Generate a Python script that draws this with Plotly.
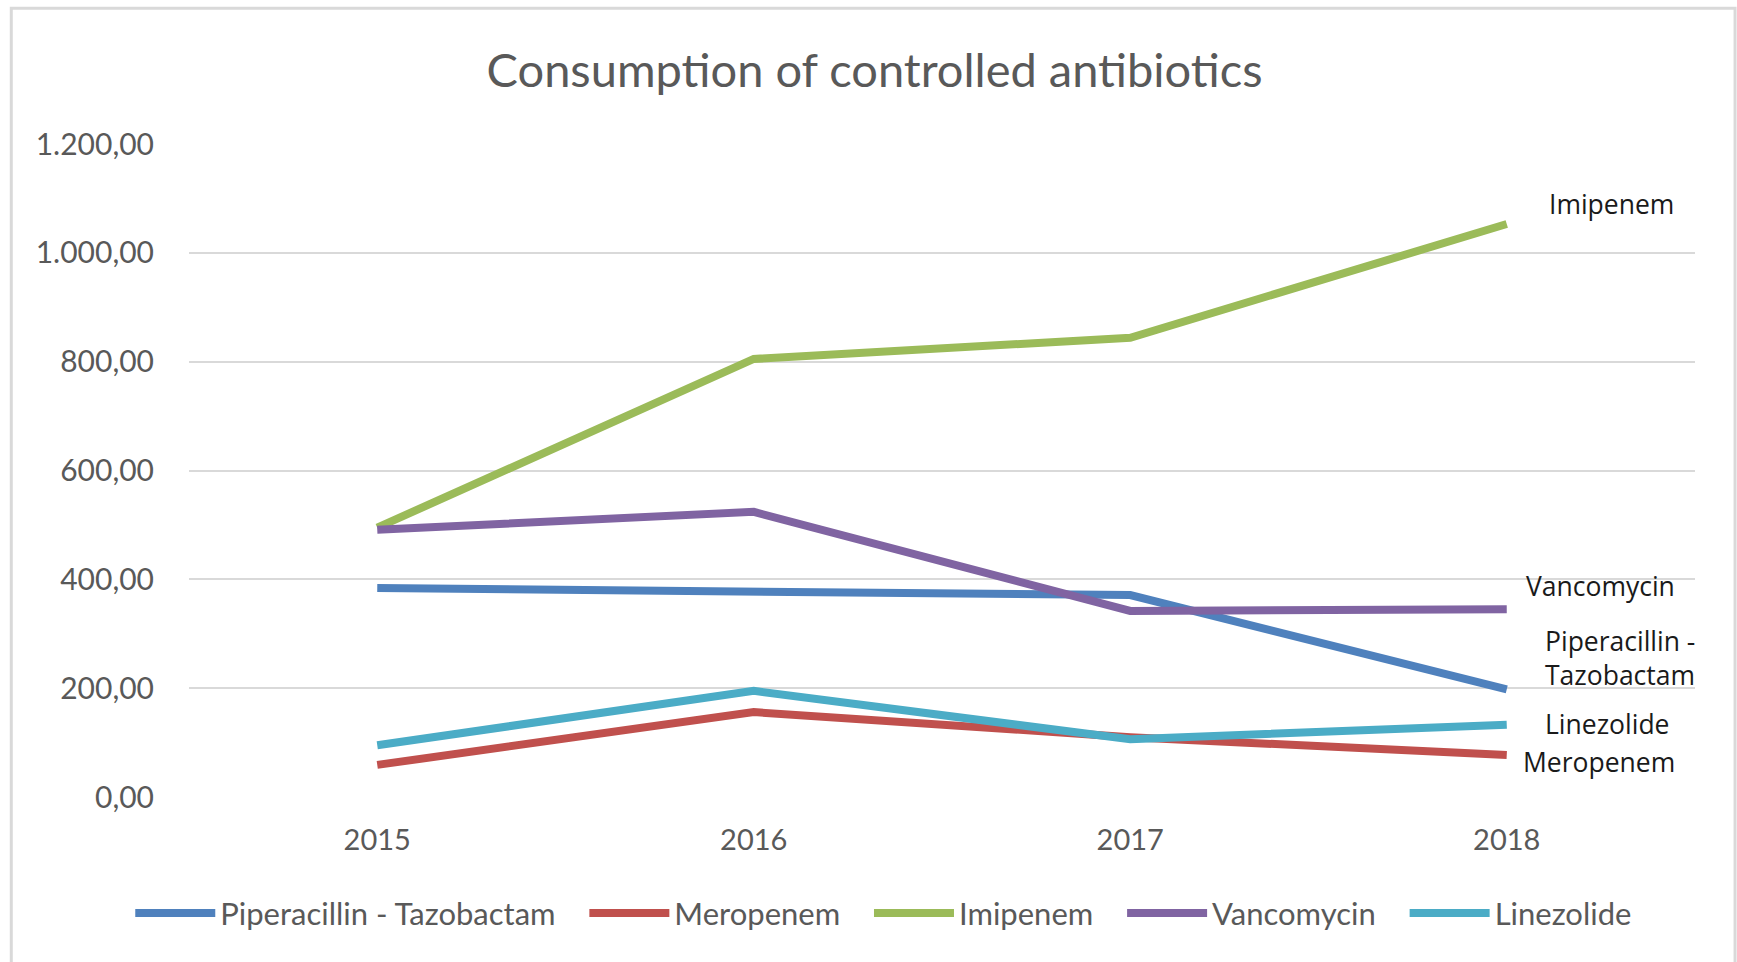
import plotly.graph_objects as go

years = ["2015", "2016", "2017", "2018"]
series_names = ["Piperacillin - Tazobactam", "Meropenem", "Imipenem", "Vancomycin", "Linezolide"]
piperacillin = [384, 377, 371, 198]
meropenem = [59, 156, 110, 77]
imipenem = [495, 805, 844, 1053]
vancomycin = [491, 524, 342, 345]
linezolide = [95, 195, 106, 133]
colors = ["#4F81BD", "#C0504D", "#9BBB59", "#8064A2", "#4BACC6"]
y_ticks = [0, 200, 400, 600, 800, 1000, 1200]
y_tick_labels = ["0,00", "200,00", "400,00", "600,00", "800,00", "1.000,00", "1.200,00"]

# end-of-line labels (text, x index, y value)
end_labels = [
    ("Imipenem", 3.278, 1090),
    ("Vancomycin", 3.249, 388),
    ("Piperacillin -<br>Tazobactam", 3.30, 256),
    ("Linezolide", 3.268, 134),
    ("Meropenem", 3.244, 64),
]

values = [piperacillin, meropenem, imipenem, vancomycin, linezolide]

fig = go.Figure()
n = len(series_names)
for i, (name, vals, col) in enumerate(zip(series_names, values, colors)):
    pad = "\u00a0" * 3 if i < n - 1 else ""
    fig.add_trace(go.Scatter(
        x=years, y=vals, name=name + pad, mode="lines",
        line=dict(color=col, width=8),
    ))

for text, xi, yv in end_labels:
    fig.add_annotation(
        x=xi, y=yv, xref="x", yref="y", text=text, showarrow=False,
        align="left", xanchor="center", yanchor="middle",
        font=dict(family="Open Sans", size=26.5, color="#1a1a1a"),
    )

fig.update_layout(
    width=1737, height=962,
    paper_bgcolor="white", plot_bgcolor="white",
    margin=dict(l=189, r=42, t=144, b=165),
    title=dict(text="Consumption of controlled antibiotics", x=0.5035, xanchor="center",
               y=0.927, yanchor="middle",
               font=dict(family="Lato", size=47, color="#595959")),
    xaxis=dict(type="category", range=[-0.5, 3.5], showgrid=False, showline=False,
               zeroline=False, ticks="", ticklabelstandoff=23,
               tickfont=dict(family="Lato", size=29, color="#595959")),
    yaxis=dict(range=[0, 1200], tickvals=y_ticks, ticktext=y_tick_labels,
               showgrid=True, gridcolor="#D9D9D9", gridwidth=2, zeroline=False,
               showline=False, ticks="", ticklabelstandoff=34,
               tickfont=dict(family="Lato", size=30, color="#595959")),
    showlegend=True,
    legend=dict(orientation="h", x=-0.039, xanchor="left", y=-0.178, yanchor="middle",
                font=dict(family="Lato", size=31, color="#595959"),
                itemwidth=80, tracegroupgap=0),
    shapes=[dict(type="rect", xref="paper", yref="paper",
                 x0=-0.118, x1=1.0266, y0=-0.35, y1=1.208,
                 line=dict(color="#D9D9D9", width=3), fillcolor="rgba(0,0,0,0)",
                 layer="below")],
)

fig.write_html("out.html", config={"displayModeBar": False},
               post_script="document.body.style.margin='0px';document.body.style.overflow='hidden';")
